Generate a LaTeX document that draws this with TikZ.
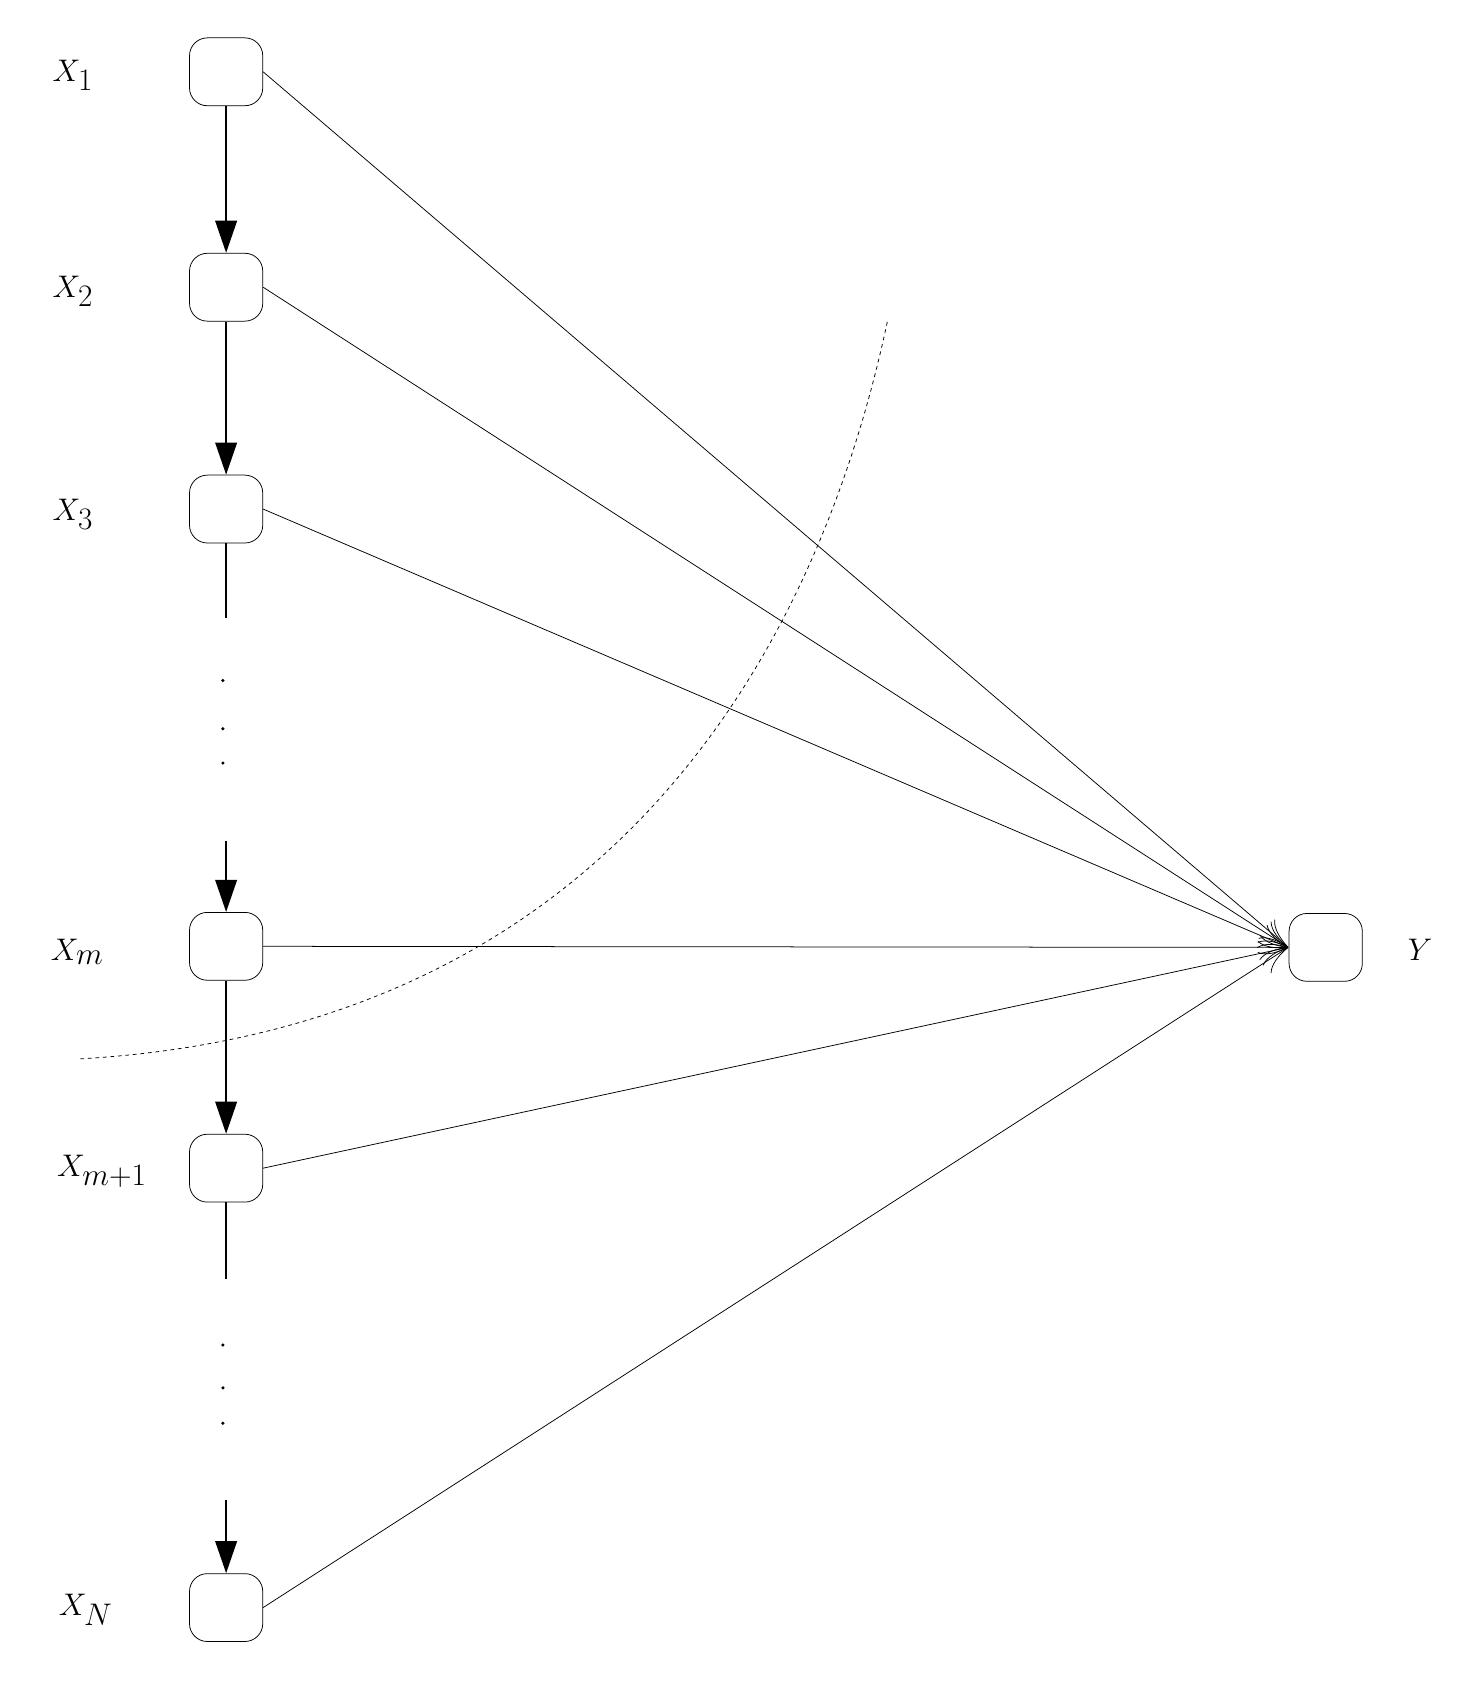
\documentclass[tikz,border=0pt]{standalone}
\usepackage{fontspec}
\setmainfont{Liberation Serif}
\usetikzlibrary{arrows.meta}
\begin{document}
\begin{tikzpicture}[x=0.03cm,y=-0.03cm,
  nd/.style={draw,rounded corners=5mm,minimum width=2.05cm,minimum height=1.9cm,line width=0.6pt},
  lb/.style={font=\fontsize{42}{50}\selectfont},
  thick arr/.style={line width=2pt,-{Triangle[length=9mm,width=6mm]}},
  thin arr/.style={line width=0.6pt,-{To[length=8mm,width=7mm]}}]
\useasboundingbox (0,0) rectangle (1380,1576);
\node[nd] (x1) at (211,67) {};
\node[nd] (x2) at (211,268) {};
\node[nd] (x3) at (211,475) {};
\node[nd] (xm) at (211,883) {};
\node[nd] (xm1) at (211,1090) {};
\node[nd] (xn) at (211,1500) {};
\node[nd] (y) at (1237,884) {};
\node[lb] (l1) at (68,70) {$X_1$};
\node[lb] (l2) at (68,272) {$X_2$};
\node[lb] (l3) at (68,480) {$X_3$};
\node[lb] (lm) at (72,888) {$X_m$};
\node[lb] (lm1) at (95,1093) {$X_{m+1}$};
\node[lb] (ln) at (80,1502) {$X_N$};
\node[lb] (ly) at (1325,886) {$Y$};
\draw[thick arr] (x1) -- (x2);
\draw[thick arr] (x2) -- (x3);
\coordinate (c3) at (211,577);
\draw[line width=2pt] (x3) -- (c3);
\coordinate (am) at (211,785);
\draw[thick arr] (am) -- (xm);
\draw[thick arr] (xm) -- (xm1);
\coordinate (cm1) at (211,1193);
\draw[line width=2pt] (xm1) -- (cm1);
\coordinate (an) at (211,1400);
\draw[thick arr] (an) -- (xn);
\foreach \yy in {635,680,712,1255,1295,1328} \fill (208,\yy) circle (1.6);
\coordinate (yt) at (1202,884);
\foreach \n in {x1,x2,x3,xm,xm1,xn} \draw[thin arr] (\n.east) -- (yt);
\draw[dashed,line width=0.6pt] (75,988) .. controls (560,960) and (760,620) .. (828,300);
\end{tikzpicture}
\end{document}
